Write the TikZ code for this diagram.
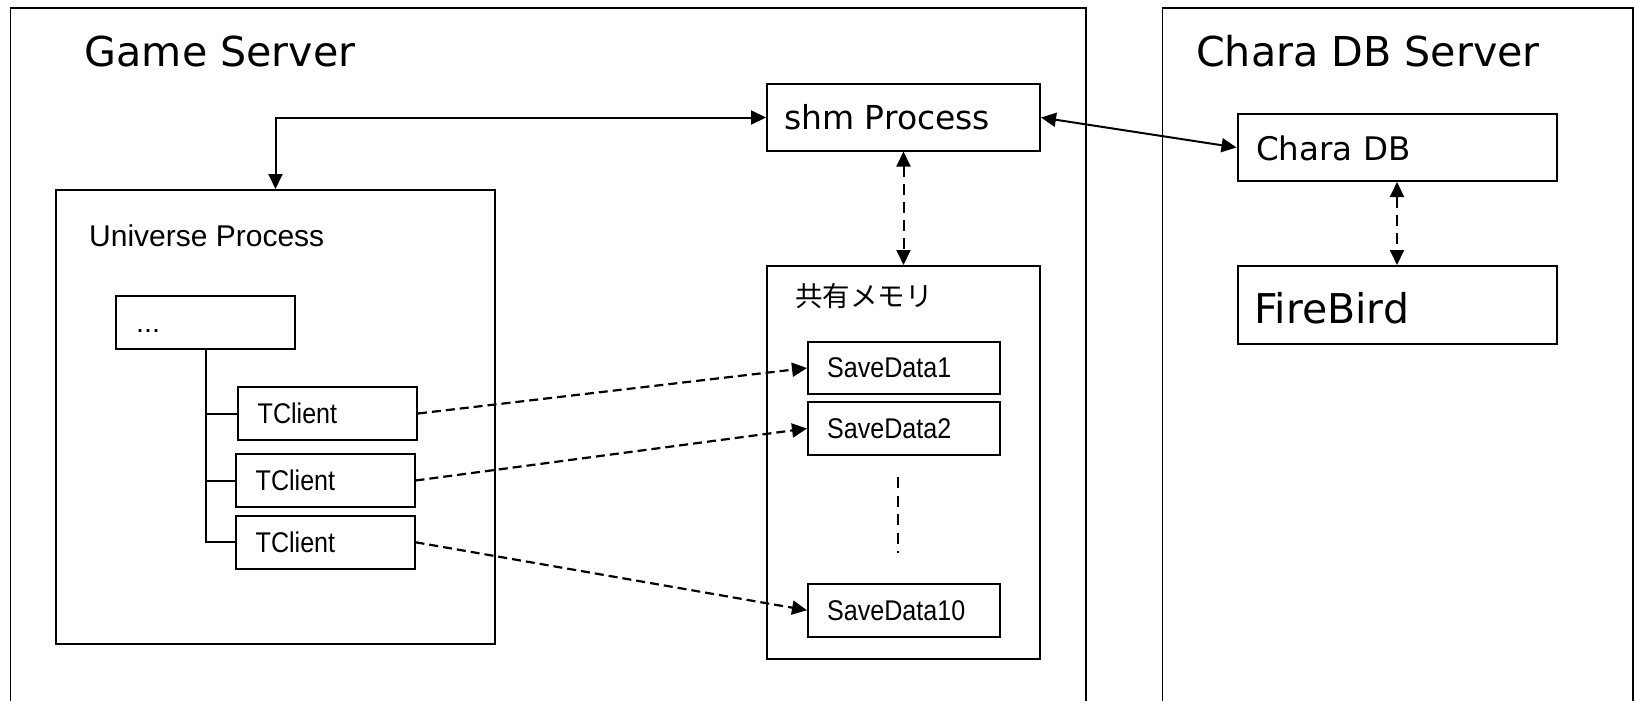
\documentclass[tikz,border=0pt]{standalone}
\usepackage{fontspec}
\setmainfont{Liberation Sans}
\newfontfamily\titlefont{DejaVu Sans}
\newfontfamily\narrowfont[FakeStretch=0.88]{Liberation Sans}
\newfontfamily\jpfont{Noto Sans CJK JP}
\usetikzlibrary{arrows.meta,calc}

\begin{document}
\begin{tikzpicture}[x=1pt,y=-1pt,
  server/.style={draw, line width=1.6pt, rectangle, inner sep=0pt, anchor=north west},
  box/.style={draw, line width=2pt, rectangle, inner sep=0pt, anchor=north west},
  lbl/.style={inner sep=0pt, anchor=base west},
  big/.style={font=\titlefont\fontsize{41.2}{48}\selectfont},
  mid/.style={font=\titlefont\fontsize{33}{40}\selectfont},
  small/.style={inner sep=0pt, anchor=west, font=\narrowfont\fontsize{28.5}{34}\selectfont},
  link/.style={line width=2pt, {Triangle[length=15pt,width=14pt]}-{Triangle[length=15pt,width=14pt]}},
  dlink/.style={line width=2pt, dash pattern=on 11pt off 7pt, {Triangle[length=15pt,width=14pt]}-{Triangle[length=15pt,width=14pt]}},
  dashlink/.style={line width=2.2pt, dash pattern=on 9pt off 5pt, -{Triangle[length=15pt,width=14pt]}},
  gapline/.style={line width=2.2pt, dash pattern=on 11pt off 7.5pt},
  branch/.style={line width=2pt}
]
\useasboundingbox (0,0) rectangle (1634,701);

% server frames (open towards the bottom of the page)
\node[server, minimum width=1075.5pt, minimum height=720pt] (gs) at (9.5,7.5) {};
\node[server, minimum width=470.5pt, minimum height=720pt] (cs) at (1161.5,7.5) {};
\node[lbl, big] (gstitle) at (84.5,66.7) {Game Server};
\node[lbl, big] (cstitle) at (1196,66.5) {Chara DB Server};

% shared memory process and database side
\node[box, minimum width=273pt, minimum height=66pt] (shm) at (766,83.5) {};
\node[lbl, mid] (shmtxt) at (784,129) {shm Process};
\node[box, minimum width=319pt, minimum height=67pt] (charadb) at (1236.5,113) {};
\node[lbl, font=\titlefont\fontsize{32.5}{39}\selectfont] (charadbtxt) at (1256,160) {Chara DB};
\node[box, minimum width=319pt, minimum height=78pt] (firebird) at (1236.5,265) {};
\node[lbl, font=\titlefont\fontsize{41}{48}\selectfont] (firebirdtxt) at (1254,323) {FireBird};

% shared memory block with save slots
\node[box, minimum width=273pt, minimum height=393pt] (mem) at (766,265) {};
\node[lbl, font=\jpfont\fontsize{27.5}{33}\selectfont] (memtxt) at (795,306) {共有メモリ};
\node[box, minimum width=192pt, minimum height=52pt] (sd1) at (807,341) {};
\node[box, minimum width=192pt, minimum height=53pt] (sd2) at (807,401) {};
\node[box, minimum width=192pt, minimum height=53.5pt] (sd10) at (807,582.5) {};
\node[small] (sd1txt) at ([xshift=20pt]sd1.west) {SaveData1};
\node[small] (sd2txt) at ([xshift=20pt]sd2.west) {SaveData2};
\node[small] (sd10txt) at ([xshift=20pt]sd10.west) {SaveData10};
\coordinate (gapA) at (898,477);
\coordinate (gapB) at (898,553);
\draw[gapline] (gapA) -- (gapB);

% universe process with its client tree
\node[box, minimum width=439pt, minimum height=454pt] (univ) at (55,189) {};
\node[lbl, font=\fontsize{30}{36}\selectfont] (univtxt) at (89,246) {Universe Process};
\node[box, minimum width=179pt, minimum height=53pt] (dotsbox) at (115,295) {};
\node[lbl, font=\fontsize{28.5}{34}\selectfont] (dotstxt) at (136,332) {...};
\node[box, minimum width=179.5pt, minimum height=53pt] (tc1) at (236.5,386) {};
\node[box, minimum width=179pt, minimum height=53pt] (tc2) at (234.5,453) {};
\node[box, minimum width=179pt, minimum height=53.5pt] (tc3) at (234.5,514.5) {};
\node[small] (tc1txt) at ([xshift=21pt]tc1.west) {TClient};
\node[small] (tc2txt) at ([xshift=21pt]tc2.west) {TClient};
\node[small] (tc3txt) at ([xshift=21pt]tc3.west) {TClient};

\draw[branch] (dotsbox.south) |- (tc3.west);
\draw[branch] (dotsbox.south |- tc1.west) -- (tc1.west);
\draw[branch] (dotsbox.south |- tc2.west) -- (tc2.west);

% connectors
\draw[link] (univ.north) |- (shm.west);
\draw[link] (shm.east) -- (charadb.west);
\draw[dlink] (shm.south) -- (mem.north);
\draw[dlink] (charadb.south) -- (firebird.north);
\draw[dashlink] (tc1.east) -- (sd1.west);
\draw[dashlink] (tc2.east) -- (sd2.west);
\draw[dashlink] (tc3.east) -- (sd10.west);
\end{tikzpicture}
\end{document}
